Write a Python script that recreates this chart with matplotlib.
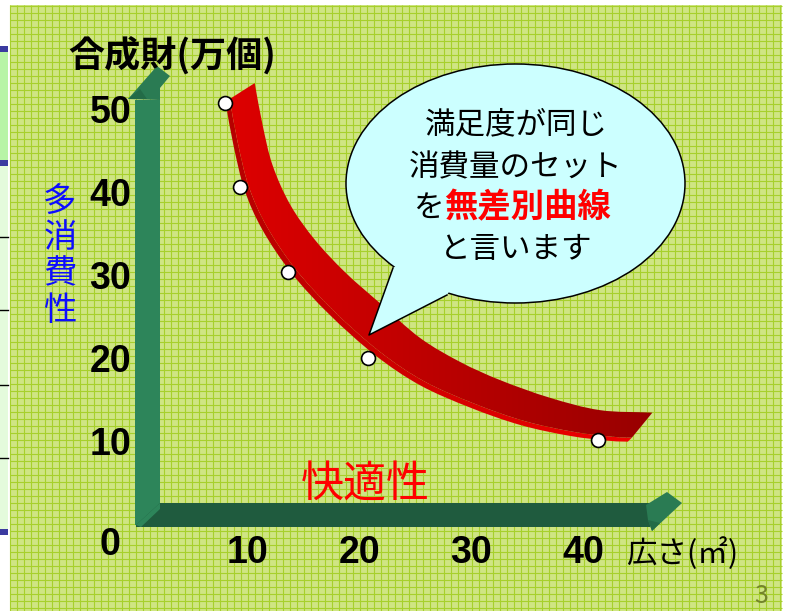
import numpy as np
import matplotlib
matplotlib.use('Agg')
import matplotlib.pyplot as plt
from matplotlib.patches import Polygon, Ellipse, Rectangle, PathPatch
from matplotlib.path import Path
from matplotlib.colors import LinearSegmentedColormap

plt.rcParams['font.family'] = ['Noto Sans CJK JP', 'DejaVu Sans']

# indifference curve: front (lower) edge of the 3D ribbon
curve_x = [8.0, 8.7, 9.7, 11.3, 13.9, 17.3, 21.4, 25.4, 29.9, 34.4, 38.8, 42.4, 44.0]
curve_y = [51.2, 46.1, 40.7, 35.9, 30.7, 25.7, 20.8, 17.2, 14.5, 12.4, 11.1, 10.5, 10.4]
# back (upper) edge of the same ribbon
back_x = [10.6, 11.3, 12.2, 13.8, 16.0, 18.7, 21.8, 25.4, 29.0, 32.6, 37.0, 41.5, 46.2]
back_y = [53.6, 48.6, 43.7, 38.9, 34.7, 30.8, 27.1, 22.9, 20.0, 17.8, 15.7, 14.2, 13.9]
# consumption sets marked with white dots
point_x = [7.9, 9.3, 13.6, 20.7, 41.3]
point_y = [51.2, 41.1, 30.8, 20.5, 10.6]
yticks = [10, 20, 30, 40, 50]
xticks = [10, 20, 30, 40]

title = '合成財(万個)'
xname = '広さ(㎡)'
yname = '多\n消\n費\n性'
xname2 = '快適性'
bubble_lines = ['満足度が同じ', '消費量のセット']
bubble_pre = 'を'
bubble_red = '無差別曲線'
bubble_last = 'と言います'

W, H = 786, 611
num_font = ['Liberation Sans Narrow', 'Liberation Sans', 'DejaVu Sans']


def px_axes(z):
    a = fig.add_axes([0, 0, 1, 1], zorder=z)
    a.set_xlim(0, W)
    a.set_ylim(H, 0)
    a.axis('off')
    a.patch.set_alpha(0)
    return a


def smooth_path(P):
    # catmull-rom through the points, handed to matplotlib as bezier segments
    P = np.asarray(P, dtype=float)
    ext = np.vstack([2 * P[0] - P[1], P, 2 * P[-1] - P[-2]])
    verts, codes = [P[0]], [Path.MOVETO]
    for i in range(len(P) - 1):
        p0, p1, p2, p3 = ext[i], ext[i + 1], ext[i + 2], ext[i + 3]
        verts += [p1 + (p2 - p0) / 6, p2 - (p3 - p1) / 6, p2]
        codes += [Path.CURVE4] * 3
    return verts, codes


def band(A, B):
    va, ca = smooth_path(A)
    vb, cb = smooth_path(B[::-1])
    verts = va + vb + [va[0]]
    codes = ca + [Path.LINETO] + cb[1:] + [Path.CLOSEPOLY]
    return Path(verts, codes)


fig = plt.figure(figsize=(W / 100, H / 100), dpi=100)
bg = px_axes(0)

# slide edge on the left
bg.add_patch(Rectangle((0, 52), 8, 108, color='#b8f4a6', lw=0))
bg.add_patch(Rectangle((0, 166), 8, 363, color='#e4fbdc', lw=0))
for yb in [46, 160, 529]:
    bg.add_patch(Rectangle((0, yb), 8, 6, color='#3b3ba0', lw=0))
for yl in [237, 310, 385, 458]:
    bg.plot([0, 8], [yl, yl], color='black', lw=1)

# graph paper background
bg.add_patch(Rectangle((10, 5), 772, 606, color='#cfe583', lw=0, zorder=0))
bg.vlines(np.arange(10, 783, 7), 5, H, color='#a7d02c', lw=0.8, zorder=1)
bg.hlines(np.arange(6, H, 7), 10, 782, color='#a7d02c', lw=0.8, zorder=1)

# 3D axis bars
light, dark, head = '#2d855a', '#1f5b3e', '#2a7b53'
bars = [
    ([(135, 100), (160, 100), (160, 525), (135, 525)], light),
    ([(128, 99), (157, 66), (170, 76), (160, 88), (160, 100)], head),
    ([(128, 99), (147, 99), (140, 89)], '#236b47'),
    ([(136, 525), (160, 503), (650, 503), (650, 527), (136, 527)], dark),
    ([(136, 525), (160, 503), (160, 509), (141, 527)], light),
    ([(646, 505), (667, 492), (682, 503), (652, 531), (648, 520)], head),
    ([(648, 520), (652, 531), (660, 523)], '#236b47'),
]
for pts, c in bars:
    bg.add_patch(Polygon(pts, color=c, lw=0, zorder=3))

# chart in data coordinates
ax = fig.add_axes([0, 0, 1, 1], zorder=1)
xlim, ylim = (-12.2, 58.16), (-10, 63.61)
ax.set_xlim(*xlim)
ax.set_ylim(*ylim)
ax.axis('off')
ax.patch.set_alpha(0)

F = np.column_stack([curve_x, curve_y])
B = np.column_stack([back_x, back_y])
side = np.array([0.36, 0.48])

side_path = band(F, F + side)
face_path = band(F + side, B)

ext = (min(curve_x) - 1, max(back_x) + 1, min(curve_y) - 2, max(back_y) + 2)
grad = np.linspace(0, 1, 256).reshape(1, -1)
for path, c0, c1 in [(side_path, '#b40000', '#f40000'), (face_path, '#e00000', '#960000')]:
    cmap = LinearSegmentedColormap.from_list('rib', [c0, c1])
    clip = PathPatch(path, facecolor='none', edgecolor='none')
    ax.add_patch(clip)
    im = ax.imshow(grad, extent=ext, aspect='auto', cmap=cmap, origin='lower',
                   interpolation='bilinear', zorder=2)
    im.set_clip_path(clip)
ax.set_xlim(*xlim)
ax.set_ylim(*ylim)

ax.plot(point_x, point_y, 'o', ms=10, mfc='white', mec='black', mew=1.2, zorder=5)

for v in yticks:
    ax.annotate(str(v), xy=(0, v), xytext=(-26, 0), textcoords='offset pixels',
                ha='center', va='center', fontsize=27, fontweight='bold', family=num_font)
for v in xticks:
    ax.annotate(str(v), xy=(v, 0), xytext=(0, -25), textcoords='offset pixels',
                ha='center', va='center', fontsize=27, fontweight='bold', family=num_font)
ax.annotate('0', xy=(0, 0), xytext=(-26, -17), textcoords='offset pixels',
            ha='center', va='center', fontsize=27, fontweight='bold', family=num_font)

# labels and speech bubble on top
top = px_axes(2)
top.text(172, 55, title, ha='center', va='center', fontsize=26, fontweight='bold')
top.text(60, 256, yname, ha='center', va='center', fontsize=24, color='#0d0dff', linespacing=1.05)
top.text(365, 486, xname2, ha='center', va='center', fontsize=31, color='#ff0000')
top.text(682, 554, xname, ha='center', va='center', fontsize=22, color='black')
top.text(761, 596, '3', ha='center', va='center', fontsize=18, color='#73832a')

bfill = '#ccffff'
j1, tip, j2, cen = (393, 268), (369, 335), (447, 295), (515.5, 183.5)
top.add_patch(Ellipse(cen, 339, 239, facecolor=bfill, edgecolor='black', lw=1.1, zorder=2))
top.add_patch(Polygon([j1, tip, j2, cen], closed=True, facecolor=bfill, edgecolor='none', zorder=3))
top.plot([j1[0], tip[0], j2[0]], [j1[1], tip[1], j2[1]], color='black', lw=1.1, zorder=4)

top.text(516, 125, bubble_lines[0], ha='center', va='center', fontsize=22, zorder=5)
top.text(516, 168, bubble_lines[1], ha='center', va='center', fontsize=22, zorder=5)
top.text(444, 208, bubble_pre, ha='right', va='center', fontsize=22, zorder=5)
top.text(444, 208, bubble_red, ha='left', va='center', fontsize=24, fontweight='bold',
         color='#ff0000', zorder=5)
top.text(516, 250, bubble_last, ha='center', va='center', fontsize=22, zorder=5)

fig.savefig('out.png', dpi=100)
